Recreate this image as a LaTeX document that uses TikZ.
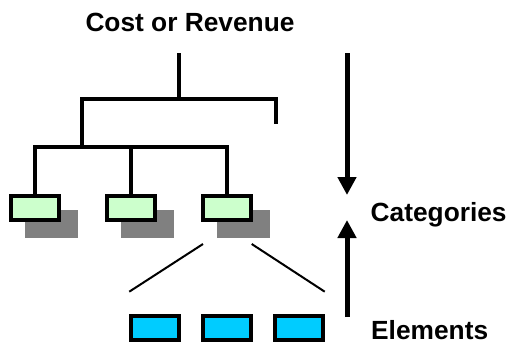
\documentclass[tikz,border=0pt]{standalone}
\usepackage{fontspec}
\setmainfont{Liberation Sans}
\usetikzlibrary{arrows.meta}
\definecolor{catgreen}{RGB}{204,255,204}
\definecolor{elemblue}{RGB}{0,204,255}
\definecolor{shadegray}{RGB}{128,128,128}
\tikzset{
  label text/.style={font=\bfseries\fontsize{26.3}{30}\selectfont, inner sep=0pt},
  category/.style={draw=black, line width=4pt, fill=catgreen, minimum width=48pt, minimum height=24pt, inner sep=0pt},
  element/.style={draw=black, line width=4pt, fill=elemblue, minimum width=47.5pt, minimum height=23.5pt, inner sep=0pt},
  shadowbox/.style={fill=shadegray, minimum width=52.5pt, minimum height=28pt, inner sep=0pt, draw=none},
  tree/.style={line width=3.8pt},
  split/.style={line width=2pt},
  flow/.style={line width=5pt, -{Triangle[length=18pt,width=18pt]}},
}
\begin{document}
\begin{tikzpicture}[x=1pt, y=-1pt]
  \useasboundingbox (0,0) rectangle (512,343);

  % headings
  \node[label text, anchor=base] (title) at (190,31.5) {Cost or Revenue};
  \node[label text, anchor=base west] (cats) at (370.5,221.5) {Categories};
  \node[label text, anchor=base west] (elems) at (371,339.5) {Elements};

  % shadows behind the category boxes
  \node[shadowbox] (s1) at (51.3,224.2) {};
  \node[shadowbox] (s2) at (147.3,224.2) {};
  \node[shadowbox] (s3) at (243.3,224.2) {};

  % category boxes
  \node[category] (c1) at (35,208.3) {};
  \node[category] (c2) at (131,208.3) {};
  \node[category] (c3) at (227,208.3) {};

  % element boxes
  \node[element] (e1) at (155,328) {};
  \node[element] (e2) at (227,328) {};
  \node[element] (e3) at (299,328) {};

  % upper tree
  \coordinate (root) at (179,53);
  \coordinate (bar1) at (179,99);
  \coordinate (stub) at (276,124);
  \coordinate (bar2) at (82,147);
  \draw[tree] (root) -- (bar1);
  \draw[tree] (bar2) |- (stub |- bar1) -- (stub);

  % lower tree
  \draw[tree] (c1.north) |- (bar2) -| (c3.north);
  \draw[tree] (c2.north) -- (c2.north |- bar2);

  % split of one category into its elements
  \coordinate (sl) at (203,244);
  \coordinate (sr) at (251.7,244);
  \draw[split] (sl) -- (e1.west |- 0,291.7);
  \draw[split] (sr) -- (e3.east |- 0,291.7);

  % direction arrows
  \coordinate (dtop) at (347,53);
  \coordinate (dtip) at (347,195);
  \coordinate (ubot) at (347,317);
  \coordinate (utip) at (347,220);
  \draw[flow] (dtop) -- (dtip);
  \draw[flow] (ubot) -- (utip);
\end{tikzpicture}
\end{document}
